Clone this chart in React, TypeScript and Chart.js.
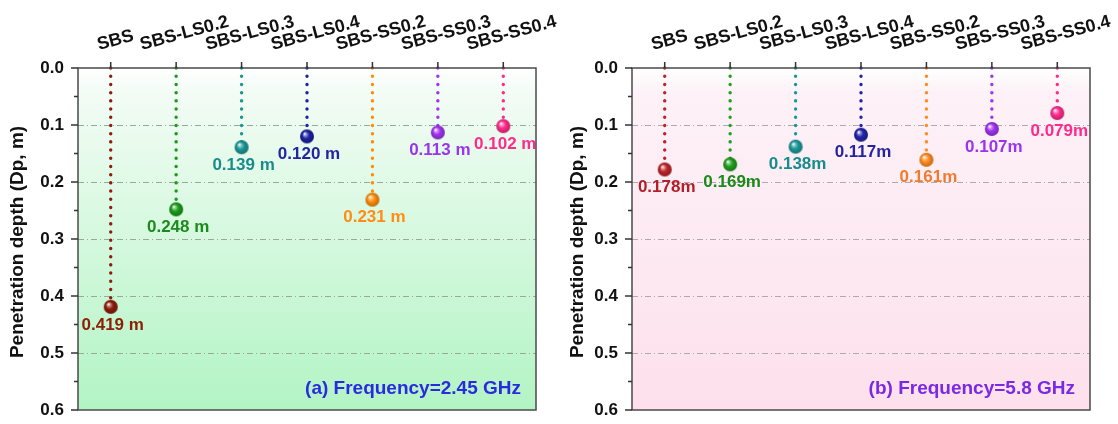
import React, { useEffect, useRef } from 'react';
import { Chart, registerables } from 'chart.js';

Chart.register(...registerables);

const FONT = '"Liberation Sans", Arial, Helvetica, sans-serif';

// ---------- data ----------
const categories = ['SBS', 'SBS-LS0.2', 'SBS-LS0.3', 'SBS-LS0.4', 'SBS-SS0.2', 'SBS-SS0.3', 'SBS-SS0.4'];
const depth245 = [0.419, 0.248, 0.139, 0.12, 0.231, 0.113, 0.102];
const depth58 = [0.178, 0.169, 0.138, 0.117, 0.161, 0.107, 0.079];
const valueLabels245 = ['0.419 m', '0.248 m', '0.139 m', '0.120 m', '0.231 m', '0.113 m', '0.102 m'];
const valueLabels58 = ['0.178m', '0.169m', '0.138m', '0.117m', '0.161m', '0.107m', '0.079m'];
const yMin = 0;
const yMax = 0.6;
const yMajorStep = 0.1;
const yMinorStep = 0.05;
const yTitle = 'Penetration depth (Dp, m)';
const note245 = '(a) Frequency=2.45 GHz';
const note58 = '(b) Frequency=5.8 GHz';

// ---------- styles ----------
const colors245 = ['#8e1c0c', '#1a9a1a', '#1a9696', '#1c22a2', '#ff8c0a', '#a032f0', '#ff2a8a'];
const textColors245 = ['#8b2208', '#1c8a1c', '#1a8c8c', '#2424a0', '#ff8c14', '#9a34ee', '#ff2a8a'];
const colors58 = ['#bc2428', '#1f9e1f', '#1a9898', '#2224a8', '#ff8c1e', '#a032f0', '#ff2a8c'];
const textColors58 = ['#b41e28', '#1a8a1a', '#188c8c', '#2424a0', '#f27a2c', '#9a34ee', '#ff2a8a'];
const bg245 = ['#ffffff', '#f3fcf5', '#b2f4c4'];
const bg58 = ['#ffffff', '#fdf2f7', '#fde0ec'];

function hexToRgb(h: string) {
  const n = parseInt(h.slice(1), 16);
  return [(n >> 16) & 255, (n >> 8) & 255, n & 255];
}
function mix(a: string, b: string, t: number) {
  const A = hexToRgb(a), B = hexToRgb(b);
  const c = A.map((v, i) => Math.round(v + (B[i] - v) * t));
  return `rgb(${c[0]},${c[1]},${c[2]})`;
}
function makeSphere(color: string, r: number) {
  const s = Math.ceil(2 * r + 2);
  const c = document.createElement('canvas');
  c.width = s;
  c.height = s;
  const g = c.getContext('2d')!;
  const cx = s / 2, cy = s / 2;
  const grad = g.createRadialGradient(cx - r * 0.35, cy - r * 0.4, r * 0.04, cx, cy, r);
  grad.addColorStop(0, '#ffffff');
  grad.addColorStop(0.2, mix(color, '#ffffff', 0.5));
  grad.addColorStop(0.5, color);
  grad.addColorStop(1, mix(color, '#000000', 0.25));
  g.fillStyle = grad;
  g.beginPath();
  g.arc(cx, cy, r, 0, Math.PI * 2);
  g.fill();
  return c;
}

type PanelProps = {
  values: number[];
  valueLabels: string[];
  colors: string[];
  textColors: string[];
  bg: string[];
  note: string;
  noteColor: string;
  gridColor: string;
  left: number;
  width: number;
  axisWidth: number;
  rightPad: number;
};

function isMajor(v: number) {
  const k = v / yMajorStep;
  return Math.abs(k - Math.round(k)) < 1e-6;
}

function Panel(p: PanelProps) {
  const ref = useRef<HTMLCanvasElement>(null);
  useEffect(() => {
    const canvas = ref.current!;
    const spheres = p.colors.map((c) => makeSphere(c, 7));
    const TOP = 68;
    const decor = {
      id: 'decor',
      beforeDraw(chart: any) {
        const { ctx, chartArea: a } = chart;
        const g = ctx.createLinearGradient(0, a.top, 0, a.bottom);
        g.addColorStop(0, p.bg[0]);
        g.addColorStop(0.07, p.bg[1]);
        g.addColorStop(1, p.bg[2]);
        ctx.save();
        ctx.fillStyle = g;
        ctx.fillRect(a.left, a.top, a.right - a.left, a.bottom - a.top);
        ctx.restore();
      },
      afterDatasetsDraw(chart: any) {
        const { ctx } = chart;
        const meta = chart.getDatasetMeta(0);
        ctx.save();
        ctx.font = `bold 17px ${FONT}`;
        ctx.textAlign = 'center';
        ctx.textBaseline = 'middle';
        meta.data.forEach((el: any, i: number) => {
          ctx.fillStyle = p.textColors[i];
          ctx.fillText(p.valueLabels[i], el.x + 2, el.y + 18);
        });
        ctx.restore();
      },
      afterDraw(chart: any) {
        const { ctx, chartArea: a } = chart;
        const xs = chart.scales.x;
        const ys = chart.scales.y;
        ctx.save();
        // frame
        ctx.strokeStyle = '#4a4a4a';
        ctx.lineWidth = 1.5;
        ctx.strokeRect(a.left, a.top, a.right - a.left, a.bottom - a.top);
        // y ticks
        ctx.strokeStyle = '#333';
        ctx.lineWidth = 1.5;
        for (let v = yMin; v <= yMax + 1e-9; v += yMinorStep) {
          const y = ys.getPixelForValue(v);
          const len = isMajor(v) ? 7 : 4;
          ctx.beginPath();
          ctx.moveTo(a.left - len, y);
          ctx.lineTo(a.left, y);
          ctx.stroke();
        }
        // x ticks + rotated labels
        const ang = (15 * Math.PI) / 180;
        ctx.font = `bold 18px ${FONT}`;
        ctx.fillStyle = '#111';
        ctx.textAlign = 'center';
        ctx.textBaseline = 'alphabetic';
        categories.forEach((lbl, i) => {
          const x = xs.getPixelForTick(i);
          ctx.beginPath();
          ctx.moveTo(x, a.top - 6);
          ctx.lineTo(x, a.top);
          ctx.stroke();
          const L = ctx.measureText(lbl).width;
          const cap = 13;
          const halfH = (L / 2) * Math.sin(ang) + (cap / 2) * Math.cos(ang);
          const cx = x + 2 + 0.065 * L;
          const cy = a.top - 18 - halfH;
          ctx.save();
          ctx.translate(cx, cy);
          ctx.rotate(-ang);
          ctx.fillText(lbl, 0, cap / 2);
          ctx.restore();
        });
        // y title
        ctx.save();
        ctx.font = `bold 19px ${FONT}`;
        ctx.fillStyle = '#111';
        ctx.translate(18, (a.top + a.bottom) / 2 + 3);
        ctx.rotate(-Math.PI / 2);
        ctx.textAlign = 'center';
        ctx.textBaseline = 'middle';
        ctx.fillText(yTitle, 0, 0);
        ctx.restore();
        // note
        ctx.font = `bold 19px ${FONT}`;
        ctx.fillStyle = p.noteColor;
        ctx.textAlign = 'right';
        ctx.textBaseline = 'middle';
        ctx.fillText(p.note, a.right - 15, a.bottom - 21);
        ctx.restore();
      },
    };

    const stemSets = categories.map((c, i) => ({
      type: 'line' as const,
      data: [
        { x: c, y: 0 },
        { x: c, y: p.values[i] },
      ],
      borderColor: p.colors[i],
      borderWidth: 3.4,
      borderDash: [0.1, 8.1],
      borderCapStyle: 'round' as const,
      pointRadius: 0,
      fill: false,
      clip: false as any,
      order: 2,
    }));

    const chart = new Chart(canvas, {
      type: 'line',
      data: {
        labels: categories,
        datasets: [
          {
            data: p.values,
            showLine: false,
            pointStyle: spheres as any,
            pointRadius: 7,
            pointHoverRadius: 7,
            order: 0,
            clip: false as any,
          } as any,
          ...stemSets,
        ],
      },
      options: {
        animation: false,
        responsive: false,
        events: [],
        layout: { padding: { left: 0, right: p.rightPad, top: 0, bottom: 14 } },
        plugins: { legend: { display: false }, tooltip: { enabled: false } },
        scales: {
          x: {
            type: 'category',
            position: 'top',
            offset: true,
            grid: { display: false },
            border: { display: false },
            ticks: { display: false },
            afterFit: (s: any) => {
              s.height = TOP;
            },
          },
          y: {
            type: 'linear',
            reverse: true,
            min: yMin,
            max: yMax,
            afterFit: (s: any) => {
              s.width = p.axisWidth;
            },
            afterBuildTicks: (s: any) => {
              const t = [];
              for (let k = 0; k <= Math.round((yMax - yMin) / yMajorStep); k++) t.push({ value: +(yMin + k * yMajorStep).toFixed(2) });
              s.ticks = t;
            },
            grid: {
              drawTicks: true,
              tickLength: 14,
              tickColor: 'rgba(0,0,0,0)',
              lineWidth: 1,
              color: (ctx: any) => {
                const v = ctx.tick ? ctx.tick.value : 0;
                return v > 0.001 && v < yMax - 0.001 ? p.gridColor : 'rgba(0,0,0,0)';
              },
            },
            border: { display: false, dash: [6, 3, 1, 3] },
            ticks: {
              padding: 0,
              color: '#111',
              font: { family: FONT, size: 17, weight: 'bold' },
              callback: (v: any) => Number(v).toFixed(1),
            },
          },
        },
      } as any,
      plugins: [decor],
    });
    return () => chart.destroy();
  }, []);
  return (
    <canvas
      ref={ref}
      width={p.width}
      height={424}
      style={{ position: 'absolute', left: p.left, top: 0, width: p.width, height: 424 }}
    />
  );
}

export default function App() {
  return (
    <div style={{ position: 'absolute', left: 0, top: 0, width: 1118, height: 424, background: '#ffffff' }}>
      <Panel
        values={depth245}
        valueLabels={valueLabels245}
        colors={colors245}
        textColors={textColors245}
        bg={bg245}
        note={note245}
        noteColor="#2a2ae0"
        gridColor="#9aa89a"
        left={0}
        width={560}
        axisWidth={78}
        rightPad={24}
      />
      <Panel
        values={depth58}
        valueLabels={valueLabels58}
        colors={colors58}
        textColors={textColors58}
        bg={bg58}
        note={note58}
        noteColor="#7a2ae4"
        gridColor="#b0a8ac"
        left={560}
        width={558}
        axisWidth={72}
        rightPad={28}
      />
    </div>
  );
}
